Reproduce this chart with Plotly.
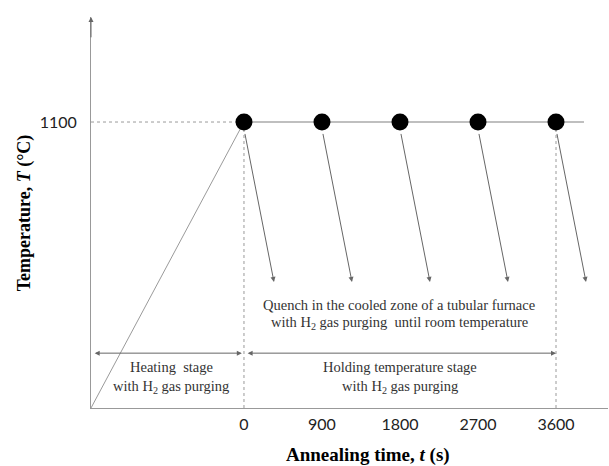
import plotly.graph_objects as go

# ---- data ----
hold_times = [0, 900, 1800, 2700, 3600]          # s
anneal_temp = 1100                               # °C
start_time = -1765                               # heating start (schematic)
room_temp = 0
x_tick_vals = [0, 900, 1800, 2700, 3600]
x_tick_text = ["0", "900", "1800", "2700", "3600"]
y_tick_vals = [1100]
y_tick_text = ["1100"]
quench_dt = 346        # schematic horizontal drift of quench arrows (s)
quench_end_temp = 485  # schematic arrow tip level

line_grey = "#9a9a9a"
txt = "#333333"
serif = "Liberation Serif"

fig = go.Figure()

# heating ramp
fig.add_trace(go.Scatter(x=[start_time, 0], y=[room_temp, anneal_temp], mode="lines",
                         line=dict(color=line_grey, width=1), hoverinfo="skip"))
# dotted guide at 1100
fig.add_trace(go.Scatter(x=[start_time, 0], y=[anneal_temp, anneal_temp], mode="lines",
                         line=dict(color=line_grey, width=1, dash="dot"), hoverinfo="skip"))
# holding line
fig.add_trace(go.Scatter(x=[0, hold_times[-1] + 323], y=[anneal_temp, anneal_temp], mode="lines",
                         line=dict(color="#aaaaaa", width=1.5), hoverinfo="skip"))
# vertical dotted guides
for t in [hold_times[0], hold_times[-1]]:
    fig.add_trace(go.Scatter(x=[t, t], y=[room_temp, anneal_temp], mode="lines",
                             line=dict(color=line_grey, width=1, dash="dot"), hoverinfo="skip"))
# points
fig.add_trace(go.Scatter(x=hold_times, y=[anneal_temp] * len(hold_times), mode="markers",
                         marker=dict(color="black", size=17), hoverinfo="skip"))

ann = []
# quench arrows
for t in hold_times:
    ann.append(dict(x=t + quench_dt, y=quench_end_temp, ax=t + 8, ay=anneal_temp - 40,
                    xref="x", yref="y", axref="x", ayref="y", text="", showarrow=True,
                    arrowhead=2, arrowsize=1, arrowwidth=1, arrowcolor="#666666"))
# stage double arrows
y_arr = 211
ann.append(dict(x=-25, y=y_arr, ax=start_time + 25, ay=y_arr, xref="x", yref="y",
                axref="x", ayref="y", text="", showarrow=True, arrowside="end+start",
                arrowhead=2, arrowsize=1, arrowwidth=1, arrowcolor="#666666"))
ann.append(dict(x=hold_times[-1], y=y_arr, ax=25, ay=y_arr, xref="x", yref="y",
                axref="x", ayref="y", text="", showarrow=True, arrowside="end+start",
                arrowhead=2, arrowsize=1, arrowwidth=1, arrowcolor="#666666"))
# y axis arrowhead
ann.append(dict(x=start_time, y=1504, ax=start_time, ay=1420, xref="x", yref="y",
                axref="x", ayref="y", text="", showarrow=True, arrowhead=2,
                arrowsize=1, arrowwidth=1, arrowcolor="#666666"))


def label(x, y, text):
    ann.append(dict(x=x, y=y, xref="x", yref="y", showarrow=False, text=text,
                    font=dict(family=serif, size=14.5, color=txt)))


label(1789, 396, "Quench in the cooled zone of a tubular furnace")
label(1789, 327, "with H<sub>2</sub> gas purging  until room temperature")
label(-842, 158, "Heating  stage")
label(-842, 81, "with H<sub>2</sub> gas purging")
label(1800, 158, "Holding temperature stage")
label(1800, 81, "with H<sub>2</sub> gas purging")

# axis titles
ann.append(dict(x=1430, y=-0.12, xref="x", yref="paper", showarrow=False,
                xanchor="center", yanchor="middle",
                text="<b>Annealing time, <i>t</i> (s)</b>",
                font=dict(family=serif, size=19, color="black")))
ann.append(dict(x=-0.128, y=0.5, xref="paper", yref="paper", showarrow=False,
                xanchor="center", yanchor="middle",
                textangle=-90, text="<b>Temperature, <i>T</i> (°C)</b>",
                font=dict(family=serif, size=18, color="black")))

fig.update_layout(
    width=609, height=466, margin=dict(l=91, r=1, t=17, b=58),
    paper_bgcolor="white", plot_bgcolor="white", showlegend=False,
    annotations=ann,
    xaxis=dict(range=[start_time, 4200], showgrid=False, zeroline=False, showline=True,
               linecolor="#999999", linewidth=1, tickvals=x_tick_vals, ticktext=x_tick_text,
               ticks="", ticklabelstandoff=2, tickfont=dict(family="Lato", size=16, color="#222")),
    yaxis=dict(range=[0, 1504], showgrid=False, zeroline=False, showline=True,
               linecolor="#999999", linewidth=1, tickvals=y_tick_vals, ticktext=y_tick_text,
               ticks="", ticklabelstandoff=10, tickfont=dict(family="Lato", size=16, color="#222")),
)

fig.write_html("out.html", config={"displayModeBar": False},
               post_script="document.body.style.margin='0';")
